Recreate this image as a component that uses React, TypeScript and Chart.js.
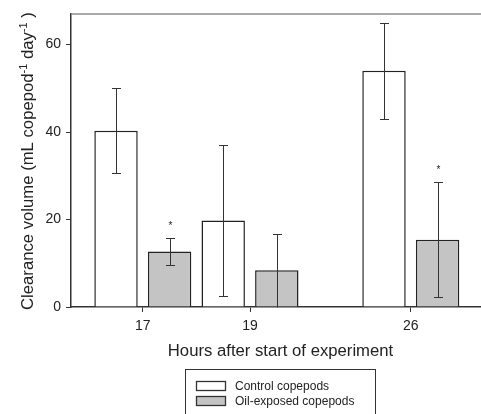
import { useEffect, useRef } from 'react';
import { Chart, registerables } from 'chart.js';

Chart.register(...registerables);

// Sampling times (hours after start) and their slot on the x axis
const HOURS = ['17', '19', '26'];
const GROUP_SLOTS = [0, 2, 5];

// Clearance volume, mean and SD, mL copepod^-1 day^-1
const CONTROL = [40.3, 19.8, 54.0];
const CONTROL_SD = [9.7, 17.2, 10.9];
const OIL = [12.7, 8.4, 15.4];
const OIL_SD = [3.0, 8.4, 13.2];
const OIL_SIGNIFICANT = [true, false, true];

const SERIES_NAMES = ['Control copepods', 'Oil-exposed copepods'];
const Y_TICKS = [0, 20, 40, 60];
const X_TITLE = 'Hours after start of experiment';
const Y_TITLE_PARTS: { text: string; sup: boolean }[] = [
  { text: 'Clearance volume (mL copepod', sup: false },
  { text: '-1', sup: true },
  { text: ' day', sup: false },
  { text: '-1', sup: true },
  { text: ' )', sup: false },
];

const FONT = '"Liberation Sans", Arial, Helvetica, sans-serif';
const INK = '#222';
const AXIS = '#333';
const FILLS = ['#ffffff', '#c4c4c4'];

const decorations = {
  id: 'decorations',
  afterDatasetsDraw(chart: any) {
    const { ctx, chartArea, scales } = chart;
    const y = scales.y;
    ctx.save();

    // light frame line along the top of the plot
    ctx.strokeStyle = '#8c8c8c';
    ctx.lineWidth = 1.5;
    ctx.beginPath();
    ctx.moveTo(chartArea.left, chartArea.top);
    ctx.lineTo(chartArea.right, chartArea.top);
    ctx.stroke();

    // error bars (mean ± SD) and significance marks
    const means = [CONTROL, OIL];
    const sds = [CONTROL_SD, OIL_SD];
    ctx.strokeStyle = AXIS;
    ctx.lineWidth = 1;
    chart.data.datasets.forEach((_: any, di: number) => {
      const meta = chart.getDatasetMeta(di);
      meta.data.forEach((bar: any, i: number) => {
        const v = means[di][i];
        const sd = sds[di][i];
        const x = Math.round(bar.x) + 0.5;
        const hi = Math.round(y.getPixelForValue(v + sd)) + 0.5;
        const loVal = v - sd;
        const lo = Math.round(y.getPixelForValue(Math.max(0, loVal))) + 0.5;
        ctx.beginPath();
        ctx.moveTo(x, hi);
        ctx.lineTo(x, lo);
        ctx.moveTo(x - 4.5, hi);
        ctx.lineTo(x + 4.5, hi);
        if (loVal > 0) {
          ctx.moveTo(x - 4.5, lo);
          ctx.lineTo(x + 4.5, lo);
        }
        ctx.stroke();
        if (di === 1 && OIL_SIGNIFICANT[i]) {
          ctx.fillStyle = INK;
          ctx.font = `10px ${FONT}`;
          ctx.textAlign = 'center';
          ctx.textBaseline = 'alphabetic';
          ctx.fillText('*', x, hi - 9.5);
        }
      });
    });
    ctx.restore();
  },
  afterDraw(chart: any) {
    const { ctx } = chart;
    ctx.save();
    ctx.fillStyle = INK;

    // x axis title
    ctx.font = `16.7px ${FONT}`;
    ctx.textAlign = 'center';
    ctx.textBaseline = 'alphabetic';
    ctx.fillText(X_TITLE, 280.5, 355.5);

    // y axis title with superscripts, reading bottom to top
    ctx.translate(33, 310);
    ctx.rotate(-Math.PI / 2);
    ctx.textAlign = 'left';
    let cx = 0;
    Y_TITLE_PARTS.forEach((p) => {
      ctx.font = p.sup ? `11px ${FONT}` : `16.7px ${FONT}`;
      ctx.fillText(p.text, cx, p.sup ? -6.5 : 0);
      cx += ctx.measureText(p.text).width;
    });
    ctx.setTransform(1, 0, 0, 1, 0, 0);

    // legend box
    ctx.strokeStyle = AXIS;
    ctx.lineWidth = 1;
    ctx.strokeRect(185.5, 369.5, 190, 60);
    SERIES_NAMES.forEach((name, i) => {
      const top = 381.5 + i * 15;
      ctx.fillStyle = FILLS[i];
      ctx.fillRect(196.5, top, 29, 9);
      ctx.strokeStyle = AXIS;
      ctx.lineWidth = 1.3;
      ctx.strokeRect(196.5, top, 29, 9);
      ctx.fillStyle = INK;
      ctx.font = `12px ${FONT}`;
      ctx.textAlign = 'left';
      ctx.textBaseline = 'middle';
      ctx.fillText(name, 235, top + 5);
    });
    ctx.restore();
  },
};

export default function App() {
  const canvasRef = useRef<HTMLCanvasElement | null>(null);

  useEffect(() => {
    document.body.style.margin = '0';
    const canvas = canvasRef.current;
    if (!canvas) return;

    const gridOpts = {
      display: true,
      offset: false,
      drawOnChartArea: false,
      drawTicks: true,
      tickLength: 5,
      color: AXIS,
      lineWidth: 1,
    };
    const borderOpts = { display: true, color: AXIS, width: 1.5 };

    const chart = new Chart(canvas, {
      type: 'bar',
      data: {
        datasets: [
          {
            label: SERIES_NAMES[0],
            data: GROUP_SLOTS.map((x, i) => ({ x, y: CONTROL[i] })),
            backgroundColor: FILLS[0],
            borderColor: INK,
            borderWidth: 1.5,
          },
          {
            label: SERIES_NAMES[1],
            data: GROUP_SLOTS.map((x, i) => ({ x, y: OIL[i] })),
            backgroundColor: FILLS[1],
            borderColor: INK,
            borderWidth: 1.5,
          },
        ],
      },
      options: {
        responsive: false,
        animation: false,
        devicePixelRatio: 1,
        layout: { padding: { top: 14, left: 0, right: 0, bottom: 0 } },
        datasets: { bar: { categoryPercentage: 1, barPercentage: 0.81 } },
        plugins: {
          legend: { display: false },
          tooltip: { enabled: false },
        },
        scales: {
          x: {
            type: 'linear',
            min: -1.34,
            max: 6.31,
            offset: false,
            afterBuildTicks: (s: any) => {
              s.ticks = GROUP_SLOTS.map((v) => ({ value: v }));
            },
            afterFit: (s: any) => {
              s.height = 107;
            },
            grid: gridOpts,
            border: borderOpts,
            ticks: {
              autoSkip: false,
              maxRotation: 0,
              padding: 6,
              color: INK,
              font: { family: FONT, size: 14 },
              callback: (v: any) => {
                const k = GROUP_SLOTS.indexOf(Number(v));
                return k >= 0 ? HOURS[k] : '';
              },
            },
          },
          y: {
            min: 0,
            max: 67,
            afterBuildTicks: (s: any) => {
              s.ticks = Y_TICKS.map((v) => ({ value: v }));
            },
            afterFit: (s: any) => {
              s.width = 71;
            },
            grid: gridOpts,
            border: borderOpts,
            ticks: {
              padding: 5,
              color: INK,
              font: { family: FONT, size: 14 },
            },
          },
        },
      } as any,
      plugins: [decorations],
    });

    return () => chart.destroy();
  }, []);

  return (
    <canvas
      ref={canvasRef}
      width={481}
      height={414}
      style={{ position: 'fixed', left: 0, top: 0 }}
    />
  );
}
